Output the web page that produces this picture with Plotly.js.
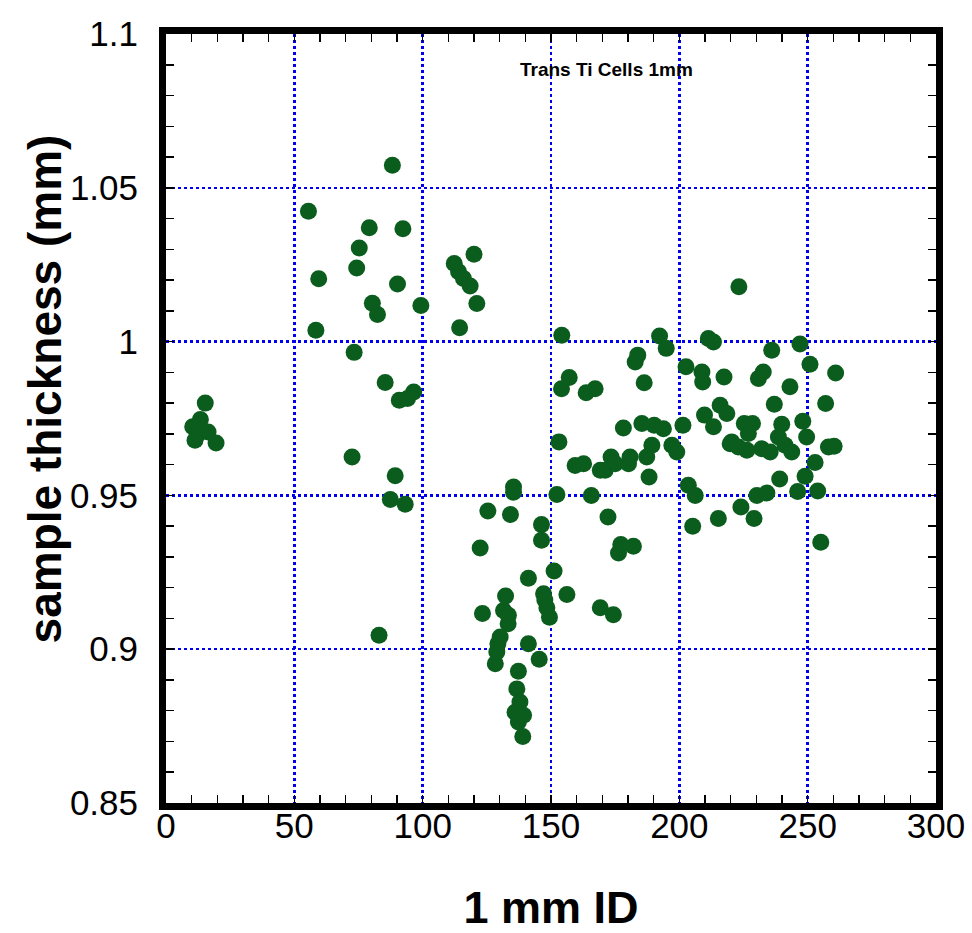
<!DOCTYPE html>
<html>
<head>
<meta charset="utf-8">
<script src="https://cdn.plot.ly/plotly-3.0.1.min.js"></script>
<style>html,body{margin:0;padding:0;background:#fff;}#chart{width:972px;height:933px;}</style>
</head>
<body>
<div id="chart"></div>
<script>
// 1 mm ID values
const cellId = [
  10.4, 11.3, 12.5, 13.4, 15.3, 16.4, 19.5,
  55.5, 58.4, 59.5, 72.5, 73.3, 74.3, 75.3, 79.2, 80.4, 82.4, 83.0, 85.4, 87.4, 88.2,
  89.3, 90.2, 90.9, 92.3, 93.2, 94.1, 96.5, 99.3, 112.3, 114.0, 114.4, 115.9, 118.5,
  120.0, 121.1, 122.4, 123.3, 125.4,
  128.3, 128.9, 129.3, 130.2, 131.5, 132.3, 133.3, 133.4, 134.2, 135.4, 135.4, 136.0,
  136.7, 137.3, 137.3, 137.9, 139.0, 139.3, 141.2, 141.2, 145.4, 146.3, 146.3, 147.1,
  147.6, 148.4, 149.4, 151.2, 152.3, 153.1, 154.1, 154.2, 156.2, 157.1, 159.4, 162.7,
  163.7, 165.7, 167.2, 169.2, 169.2, 171.1, 172.2, 173.4, 174.3, 175.0, 176.3, 177.2,
  178.2, 180.2, 180.8, 182.1, 182.8, 183.8, 185.4, 186.3, 187.3, 188.2, 189.3, 190.2,
  192.3, 193.8, 194.9, 197.1, 199.0, 201.4, 202.6, 203.5, 205.2, 206.2, 208.8, 209.1,
  209.8, 211.3, 213.3, 213.3, 215.2, 215.9, 217.4, 218.5, 219.8, 220.4, 223.0, 223.2,
  224.0, 225.3, 226.3, 226.9, 228.5, 229.1, 230.2, 230.8, 232.1, 232.7, 234.1, 235.4,
  236.0, 237.0, 238.6, 239.1, 239.9, 241.2, 243.1, 243.8, 246.1, 247.0, 248.1, 249.0,
  249.6, 250.9, 252.9, 253.9, 255.1, 257.0, 258.1, 260.3, 260.9
];
// sample thickness (mm)
const thickness = [
  0.9723, 0.9679, 0.9700, 0.9747, 0.9800, 0.9706, 0.9670,
  1.0424, 1.0037, 1.0204, 0.9625, 0.9965, 1.0239, 1.0304, 1.0370, 1.0125, 1.0088, 0.9045, 0.9867, 0.9487, 1.0573,
  0.9564, 1.0187, 0.9809, 1.0367, 0.9471, 0.9815, 0.9836, 1.0117, 1.0254, 1.0227, 1.0045, 1.0205, 1.0181,
  1.0284, 1.0124, 0.9329, 0.9116, 0.9449,
  0.8953, 0.8991, 0.9018, 0.9040, 0.9126, 0.9173, 0.9083, 0.9110, 0.9438, 0.9527, 0.9510, 0.8795,
  0.8871, 0.8928, 0.8763, 0.8828, 0.8716, 0.8785, 0.9231, 0.9018, 0.8967, 0.9405, 0.9354, 0.9180,
  0.9160, 0.9135, 0.9104, 0.9254, 0.9503, 0.9674, 0.9847, 1.0021, 0.9178, 0.9883, 0.9597, 0.9603,
  0.9834, 0.9500, 0.9847, 0.9582, 0.9135, 0.9582, 0.9430, 0.9625, 0.9112, 0.9603, 0.9313, 0.9340,
  0.9719, 0.9603, 0.9625, 0.9335, 0.9934, 0.9956, 0.9734, 0.9866, 0.9625, 0.9560, 0.9663, 0.9728,
  1.0018, 0.9717, 0.9978, 0.9663, 0.9641, 0.9728, 0.9918, 0.9533, 0.9400, 0.9500, 0.9901, 0.9869,
  0.9761, 1.0010, 0.9999, 0.9723, 0.9425, 0.9793, 0.9885, 0.9766, 0.9668, 0.9674, 0.9657, 1.0178,
  0.9462, 0.9734, 0.9647, 0.9701, 0.9734, 0.9425, 0.9500, 0.9880, 0.9652, 0.9901, 0.9508, 0.9641,
  0.9972, 0.9796, 0.9690, 0.9553, 0.9731, 0.9663, 0.9853, 0.9641, 0.9513, 0.9992, 0.9741, 0.9562,
  0.9690, 0.9926, 0.9607, 0.9514, 0.9348, 0.9799, 0.9657, 0.9660, 0.9898
];
const xTickVals = [0, 50, 100, 150, 200, 250, 300];
const xTickText = ["0", "50", "100", "150", "200", "250", "300"];
const yTickVals = [0.85, 0.9, 0.95, 1.0, 1.05, 1.1];
const yTickText = ["0.85", "0.9", "0.95", "1", "1.05", "1.1"];
const chartTitle = "Trans Ti Cells 1mm";
const xTitle = "1 mm ID";
const yTitle = "sample thickness (mm)";

const FONT = '"Liberation Sans", Arial, Helvetica, sans-serif';
const gridColor = '#0000ee';

const trace = {
  type: 'scatter', mode: 'markers',
  x: cellId, y: thickness,
  marker: {size: 17, color: '#0b5d1e', line: {width: 0}},
  hoverinfo: 'x+y'
};

const commonAxis = {
  showline: true, linecolor: 'black', linewidth: 7, mirror: 'allticks',
  ticks: 'inside', ticklen: 8, tickwidth: 1.5, tickcolor: 'black',
  showgrid: true, gridcolor: gridColor, gridwidth: 2.5, griddash: 'dot',
  zeroline: false, tickmode: 'array',
  tickfont: {family: FONT, size: 35, color: 'black'}
};

const layout = {
  width: 972, height: 933,
  margin: {l: 166, r: 36, t: 34, b: 130},
  paper_bgcolor: 'white', plot_bgcolor: 'white',
  showlegend: false,
  xaxis: Object.assign({}, commonAxis, {
    range: [0, 300], tickvals: xTickVals, ticktext: xTickText,
    ticklabelstandoff: -14,
    minor: {dtick: 10, ticks: 'inside', ticklen: 8, tickwidth: 1.5, tickcolor: 'black', showgrid: false},
    title: {text: xTitle, font: {family: FONT, size: 45, color: 'black', weight: 'bold'}, standoff: 56}
  }),
  yaxis: Object.assign({}, commonAxis, {
    range: [0.85, 1.1], tickvals: yTickVals, ticktext: yTickText,
    ticklabelstandoff: 14,
    minor: {dtick: 0.01, ticks: 'inside', ticklen: 8, tickwidth: 1.5, tickcolor: 'black', showgrid: false},
    title: {text: ''}
  }),
  annotations: [{
    text: '<b>' + chartTitle + '</b>', xref: 'x', yref: 'y', x: 171.5, y: 1.0883,
    showarrow: false, font: {family: FONT, size: 19, color: 'black'},
    xanchor: 'center', yanchor: 'middle'
  }, {
    text: '<b>' + yTitle + '</b>', xref: 'paper', yref: 'paper',
    x: -0.157, y: 0.538, textangle: -90, showarrow: false,
    font: {family: FONT, size: 46, color: 'black'},
    xanchor: 'center', yanchor: 'middle'
  }]
};

Plotly.newPlot('chart', [trace], layout, {displayModeBar: false, staticPlot: true});
</script>
</body>
</html>
